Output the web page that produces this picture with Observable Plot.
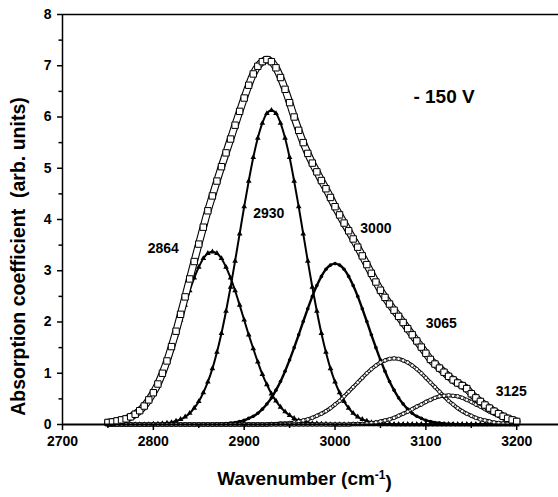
<!DOCTYPE html>
<html>
<head>
<meta charset="utf-8">
<script src="https://cdn.jsdelivr.net/npm/d3@7"></script>
<script src="https://cdn.jsdelivr.net/npm/@observablehq/plot@0.6"></script>
<style>
  html, body { margin: 0; padding: 0; background: white; }
</style>
</head>
<body>
<script>
// ---------- data ----------
const wavenumber = [
  2750,2755,2760,2765,2770,2775,2780,2785,2790,2795,
  2800,2805,2810,2815,2820,2825,2830,2835,2840,2845,
  2850,2855,2860,2865,2870,2875,2880,2885,2890,2895,
  2900,2905,2910,2915,2920,2925,2930,2935,2940,2945,
  2950,2955,2960,2965,2970,2975,2980,2985,2990,2995,
  3000,3005,3010,3015,3020,3025,3030,3035,3040,3045,
  3050,3055,3060,3065,3070,3075,3080,3085,3090,3095,
  3100,3105,3110,3115,3120,3125,3130,3135,3140,3145,
  3150,3155,3160,3165,3170,3175,3180,3185,3190,3195,
  3200
];
// measured spectrum (open squares)
const absorbance = [
  0.04,0.05,0.07,0.09,0.11,0.15,0.20,0.27,0.36,0.48,
  0.62,0.79,1.00,1.24,1.52,1.82,2.15,2.49,2.84,3.18,
  3.52,3.85,4.17,4.46,4.75,5.03,5.30,5.57,5.84,6.11,
  6.37,6.62,6.84,6.99,7.08,7.12,7.08,6.96,6.77,6.54,
  6.28,6.00,5.74,5.50,5.29,5.10,4.93,4.76,4.60,4.43,
  4.25,4.09,3.93,3.78,3.62,3.46,3.29,3.12,2.95,2.78,
  2.62,2.48,2.35,2.23,2.11,1.99,1.87,1.75,1.63,1.51,
  1.39,1.27,1.18,1.10,1.02,0.94,0.87,0.81,0.76,0.70,
  0.60,0.52,0.45,0.38,0.32,0.26,0.21,0.16,0.12,0.09,
  0.06
];
const peak2864 = [
  0.02,0.02,0.04,0.06,0.08,0.12,0.18,0.25,0.34,0.46,
  0.60,0.78,0.98,1.22,1.48,1.75,2.04,2.33,2.61,2.86,
  3.07,3.24,3.34,3.37,3.34,3.24,3.07,2.86,2.61,2.33,
  2.04,1.75,1.48,1.22,0.98,0.78,0.60,0.46,0.34,0.25,
  0.18,0.12,0.08,0.06,0.04,0.02,0.02,0.01,0.01,0,
  0,0,0,0,0,0,0,0,0,0,
  0,0,0,0,0,0,0,0,0,0,
  0,0,0,0,0,0,0,0,0,0,
  0,0,0,0,0,0,0,0,0,0,
  0
];
const peak2930 = [
  0,0,0,0,0,0,0,0,0,0,
  0.01,0.01,0.02,0.03,0.04,0.07,0.10,0.15,0.22,0.32,
  0.45,0.62,0.83,1.09,1.41,1.78,2.21,2.68,3.19,3.72,
  4.25,4.75,5.21,5.59,5.88,6.07,6.13,6.07,5.88,5.59,
  5.21,4.75,4.25,3.72,3.19,2.68,2.21,1.78,1.41,1.09,
  0.83,0.62,0.45,0.32,0.22,0.15,0.10,0.07,0.04,0.03,
  0.02,0.01,0.01,0,0,0,0,0,0,0,
  0,0,0,0,0,0,0,0,0,0,
  0,0,0,0,0,0,0,0,0,0,
  0
];
const peak3000 = [
  0,0,0,0,0,0,0,0,0,0,
  0,0,0,0,0,0,0,0,0,0,
  0,0,0,0,0.01,0.01,0.02,0.03,0.04,0.06,
  0.08,0.12,0.16,0.22,0.30,0.40,0.52,0.67,0.84,1.04,
  1.26,1.50,1.75,2.01,2.26,2.50,2.71,2.89,3.03,3.11,
  3.14,3.11,3.03,2.89,2.71,2.50,2.26,2.01,1.75,1.50,
  1.26,1.04,0.84,0.67,0.52,0.40,0.30,0.22,0.16,0.12,
  0.08,0.06,0.04,0.03,0.02,0.01,0.01,0,0,0,
  0,0,0,0,0,0,0,0,0,0,
  0
];
const peak3065 = [
  0,0,0,0,0,0,0,0,0,0,
  0,0,0,0,0,0,0,0,0,0,
  0,0,0,0,0,0,0,0,0,0,
  0,0,0,0,0,0,0.01,0.01,0.02,0.02,
  0.03,0.04,0.06,0.08,0.10,0.13,0.17,0.21,0.26,0.32,
  0.39,0.46,0.55,0.64,0.73,0.82,0.91,1.00,1.08,1.15,
  1.21,1.25,1.28,1.29,1.28,1.25,1.21,1.15,1.08,1.00,
  0.91,0.82,0.73,0.64,0.55,0.46,0.39,0.32,0.26,0.21,
  0.17,0.13,0.10,0.08,0.06,0.04,0.03,0.02,0.02,0.01,
  0.01
];
const peak3125 = [
  0,0,0,0,0,0,0,0,0,0,
  0,0,0,0,0,0,0,0,0,0,
  0,0,0,0,0,0,0,0,0,0,
  0,0,0,0,0,0,0,0,0,0,
  0,0,0,0,0,0,0,0,0,0,
  0,0,0,0,0.01,0.01,0.01,0.02,0.03,0.04,
  0.06,0.08,0.10,0.13,0.17,0.21,0.25,0.30,0.35,0.39,
  0.44,0.48,0.52,0.55,0.56,0.57,0.56,0.55,0.52,0.48,
  0.44,0.39,0.35,0.30,0.25,0.21,0.17,0.13,0.10,0.08,
  0.06
];

const xTicks = [2700, 2800, 2900, 3000, 3100, 3200];
const xMinorTicks = [2750, 2850, 2950, 3050, 3150];
const yTicks = [0, 1, 2, 3, 4, 5, 6, 7, 8];
const yMinorTicks = [0.5, 1.5, 2.5, 3.5, 4.5, 5.5, 6.5, 7.5];

const peakLabels = ["2864", "2930", "3000", "3065", "3125", "- 150 V"];
const peakLabelX = [2811, 2927, 3045, 3117, 3194, 3120];
const peakLabelY = [3.44, 4.12, 3.83, 1.98, 0.65, 6.39];

const yTitle = "Absorption coefficient\u00a0 (arb. units)";
const xTitleParts = ["Wavenumber (cm", "-1", ")"];
const xTitle = xTitleParts.join("");

// ---------- table ----------
const table = wavenumber.map((w, i) => ({
  w,
  env: absorbance[i],
  p1: peak2864[i], p2: peak2930[i], p3: peak3000[i], p4: peak3065[i], p5: peak3125[i]
}));
const labels = peakLabels.map((t, i) => ({t, x: peakLabelX[i], y: peakLabelY[i], big: i === 5}));

const curve = "catmull-rom";

const chart = Plot.plot({
  width: 558,
  height: 497,
  marginLeft: 62,
  marginRight: 0,
  marginTop: 14,
  marginBottom: 73,
  style: {fontFamily: "'Liberation Sans', Arial, sans-serif", background: "white", color: "black", overflow: "visible"},
  x: {domain: [2700, 3246]},
  y: {domain: [0, 8]},
  marks: [
    Plot.ruleY([8], {stroke: "black", strokeWidth: 1.3}),
    // 2864 component: small triangles
    Plot.line(table, {x: "w", y: "p1", stroke: "black", strokeWidth: 2, curve}),
    Plot.dot(table, {x: "w", y: "p1", symbol: "triangle", r: 2.1, fill: "black"}),
    // 2930 component: small triangles
    Plot.line(table, {x: "w", y: "p2", stroke: "black", strokeWidth: 2, curve}),
    Plot.dot(table, {x: "w", y: "p2", symbol: "triangle", r: 2.1, fill: "black"}),
    // 3000 component: small dots
    Plot.line(table, {x: "w", y: "p3", stroke: "black", strokeWidth: 2.4, curve}),
    Plot.dot(table, {x: "w", y: "p3", r: 1.8, fill: "black"}),
    // 3065 component: hollow circles
    Plot.line(table, {x: "w", y: "p4", stroke: "black", strokeWidth: 3.8, curve}),
    Plot.line(table, {x: "w", y: "p4", stroke: "white", strokeWidth: 1.6, curve}),
    Plot.dot(table, {x: "w", y: "p4", r: 1.8, fill: "white", stroke: "black", strokeWidth: 0.8}),
    // 3125 component: hollow circles
    Plot.line(table, {x: "w", y: "p5", stroke: "black", strokeWidth: 3.8, curve}),
    Plot.line(table, {x: "w", y: "p5", stroke: "white", strokeWidth: 1.6, curve}),
    Plot.dot(table, {x: "w", y: "p5", r: 1.8, fill: "white", stroke: "black", strokeWidth: 0.8}),
    // measured spectrum: open squares
    Plot.line(table, {x: "w", y: "env", stroke: "black", strokeWidth: 7.6, curve}),
    Plot.line(table, {x: "w", y: "env", stroke: "white", strokeWidth: 5.4, curve}),
    Plot.dot(table, {x: "w", y: "env", symbol: "square", r: 3.6, fill: "white", stroke: "black", strokeWidth: 1}),
    // axes
    Plot.ruleY([0], {stroke: "black", strokeWidth: 2}),
    Plot.ruleX([2700], {stroke: "black", strokeWidth: 1.5}),
    Plot.axisX(xTicks, {tickSize: 6, tickPadding: 6, tickFormat: d => String(d), fontSize: 14, fontWeight: "bold", label: null, strokeWidth: 1.5}),
    Plot.axisX(xMinorTicks, {tickSize: 4, tickFormat: () => "", label: null, strokeWidth: 1.5}),
    Plot.axisY(yTicks, {tickSize: 5, tickPadding: 6, tickFormat: d => String(d), fontSize: 14, fontWeight: "bold", label: null, strokeWidth: 1.5}),
    Plot.axisY(yMinorTicks, {tickSize: 3.5, tickFormat: () => "", label: null, strokeWidth: 1.5}),
    // annotations
    Plot.text(labels.filter(d => !d.big), {x: "x", y: "y", text: "t", fontSize: 14, fontWeight: "bold", fill: "black"}),
    Plot.text(labels.filter(d => d.big), {x: "x", y: "y", text: "t", fontSize: 19, fontWeight: "bold", fill: "black"}),
    Plot.text([yTitle], {text: d => d, frameAnchor: "left", rotate: -90, dx: -44, dy: 37, textAnchor: "middle", lineAnchor: "middle", fontSize: 19.5, fontWeight: "bold", fill: "black"}),
    Plot.text([xTitle], {text: d => d, frameAnchor: "bottom", dx: -6, dy: 54, textAnchor: "middle", lineAnchor: "middle", fontSize: 19, fontWeight: "bold", fill: "black"})
  ]
});
document.body.append(chart);

// superscript in the x axis title
d3.select(chart).selectAll("text")
  .filter(function () { return this.textContent === xTitle; })
  .each(function () {
    const t = d3.select(this);
    t.text(null);
    t.append("tspan").text(xTitleParts[0]);
    t.append("tspan").attr("dy", "-0.5em").attr("font-size", "12px").text(xTitleParts[1]);
    t.append("tspan").attr("dy", "0.5em").text(xTitleParts[2]);
  });
</script>
</body>
</html>
